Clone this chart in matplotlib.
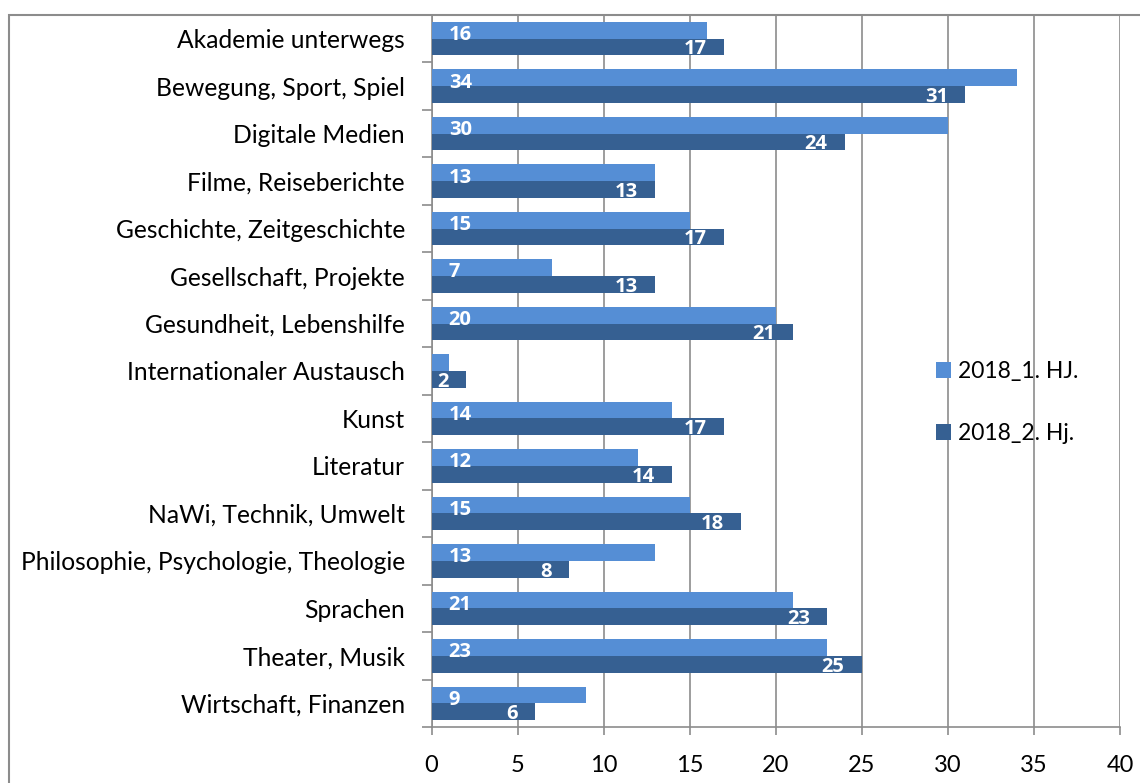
import matplotlib
matplotlib.use("Agg")
import matplotlib.pyplot as plt
from matplotlib.patches import Rectangle
import numpy as np

plt.rcParams['font.family'] = ['Lato', 'DejaVu Sans']

categories = ["Akademie unterwegs", "Bewegung, Sport, Spiel", "Digitale Medien",
              "Filme, Reiseberichte", "Geschichte, Zeitgeschichte",
              "Gesellschaft, Projekte", "Gesundheit, Lebenshilfe",
              "Internationaler Austausch", "Kunst", "Literatur",
              "NaWi, Technik, Umwelt", "Philosophie, Psychologie, Theologie",
              "Sprachen", "Theater, Musik", "Wirtschaft, Finanzen"]
hj1 = [16, 34, 30, 13, 15, 7, 20, 1, 14, 12, 15, 13, 21, 23, 9]
hj2 = [17, 31, 24, 13, 17, 13, 21, 2, 17, 14, 18, 8, 23, 25, 6]
series_names = ["2018_1. HJ.", "2018_2. Hj."]
xticks = [0, 5, 10, 15, 20, 25, 30, 35, 40]

c1 = "#558ED5"
c2 = "#366092"
grey = "#8c8c8c"

fig = plt.figure(figsize=(11.4, 7.83), dpi=100)
ax = fig.add_axes([431.5/1140, 1 - 727/783, (1120 - 431.5)/1140, (727 - 15)/783])

# outer chart frame (cut off at right/bottom like the source)
fig.patches.append(Rectangle((9/1140, -0.05), 1.2, 1 - 15/783 + 0.05,
                             transform=fig.transFigure, fill=False,
                             edgecolor=grey, linewidth=1.5))

n = len(categories)
y = np.arange(n)
h = 0.352

ax.barh(y - h/2, hj1, height=h, color=c1, label=series_names[0], zorder=3)
ax.barh(y + h/2, hj2, height=h, color=c2, label=series_names[1], zorder=3)

lbl = dict(color="white", fontweight="bold", fontsize=14.5,
           family=["Open Sans", "DejaVu Sans"], zorder=4)
for yy, v in zip(y, hj1):
    if v > 1:
        ax.text(1.0, yy - h/2 + 0.1, str(v), va="center", ha="left", **lbl)
for yy, v in zip(y, hj2):
    ax.text(v - 1.0, yy + h/2 + 0.05, str(v), va="center", ha="right", **lbl)

ax.set_ylim(n - 0.5, -0.5)
ax.set_xlim(0, 40)
ax.set_xticks(xticks)
ax.set_yticks(y)
ax.set_yticklabels(categories, fontsize=17.7)
ax.set_yticks(np.arange(n + 1) - 0.5, minor=True)
ax.tick_params(axis="y", which="major", length=0, pad=19)
ax.tick_params(axis="y", which="minor", length=7, color=grey, width=1.2)
ax.tick_params(axis="x", length=6, color=grey, width=1.2, labelsize=17, pad=14)
ax.grid(axis="x", color=grey, linewidth=1.2, zorder=0)

for side in ["top", "right"]:
    ax.spines[side].set_visible(False)
for side in ["left", "bottom"]:
    ax.spines[side].set_color(grey)
    ax.spines[side].set_linewidth(1.2)

ax.legend(loc="center left", bbox_to_anchor=((936 - 431.5)/688.5, (727 - 402.5)/712),
          frameon=False, fontsize=16.5, borderpad=0, borderaxespad=0,
          handlelength=0.66, handleheight=0.66, labelspacing=1.8, handletextpad=0.32)

plt.savefig("out.png", format="png")
